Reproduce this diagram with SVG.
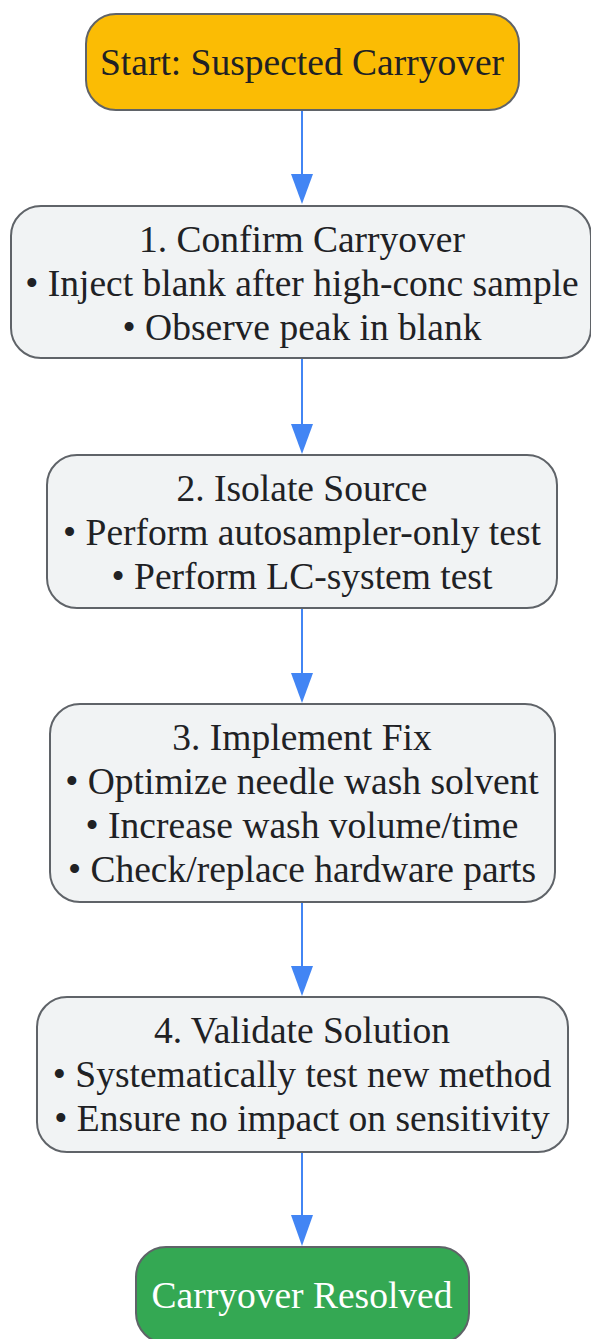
<svg xmlns="http://www.w3.org/2000/svg" width="591" height="1339" viewBox="0 0 591 1339">
<style>
  .box { stroke: #5f6368; stroke-width: 2; }
  .step { fill: #f1f3f4; }
  .start { fill: #fbbc04; }
  .end { fill: #34a853; }
  text { font-family: "Liberation Serif", "Times New Roman", serif; font-size: 37.5px; text-anchor: middle; fill: #202124; }
  .light { fill: #ffffff; }
  .edge { stroke: #4285f4; stroke-width: 2; fill: none; }
  .head { fill: #4285f4; }
</style>
<rect x="0" y="0" width="591" height="1339" fill="#ffffff"/>
<g id="connectors">
  <line class="edge" x1="302" y1="110" x2="302" y2="178"/>
  <polygon class="head" points="291,174 313,174 302,204"/>
  <line class="edge" x1="302" y1="358" x2="302" y2="428"/>
  <polygon class="head" points="291,424 313,424 302,454"/>
  <line class="edge" x1="302" y1="608" x2="302" y2="677"/>
  <polygon class="head" points="291,673 313,673 302,703"/>
  <line class="edge" x1="302" y1="902" x2="302" y2="970"/>
  <polygon class="head" points="291,966 313,966 302,996"/>
  <line class="edge" x1="302" y1="1152" x2="302" y2="1219"/>
  <polygon class="head" points="291,1215 313,1215 302,1246"/>
</g>
<g id="start">
  <rect class="box start" x="86" y="14" width="433" height="96" rx="30" ry="30"/>
  <text x="302" y="75">Start: Suspected Carryover</text>
</g>
<g id="step1">
  <rect class="box step" x="11" y="206" width="580" height="152" rx="30" ry="30"/>
  <text x="302" y="252">1. Confirm Carryover</text>
  <text x="302" y="296">• Inject blank after high-conc sample</text>
  <text x="302" y="340">• Observe peak in blank</text>
</g>
<g id="step2">
  <rect class="box step" x="47" y="455" width="510" height="153" rx="30" ry="30"/>
  <text x="302" y="501">2. Isolate Source</text>
  <text x="302" y="545">• Perform autosampler-only test</text>
  <text x="302" y="589">• Perform LC-system test</text>
</g>
<g id="step3">
  <rect class="box step" x="50" y="704" width="505" height="198" rx="30" ry="30"/>
  <text x="302" y="750">3. Implement Fix</text>
  <text x="302" y="794">• Optimize needle wash solvent</text>
  <text x="302" y="838">• Increase wash volume/time</text>
  <text x="302" y="882">• Check/replace hardware parts</text>
</g>
<g id="step4">
  <rect class="box step" x="37" y="997" width="531" height="155" rx="30" ry="30"/>
  <text x="302" y="1043">4. Validate Solution</text>
  <text x="302" y="1087">• Systematically test new method</text>
  <text x="302" y="1131">• Ensure no impact on sensitivity</text>
</g>
<g id="end">
  <rect class="box end" x="136" y="1247" width="333" height="96" rx="30" ry="30"/>
  <text class="light" x="302" y="1308">Carryover Resolved</text>
</g>
</svg>
